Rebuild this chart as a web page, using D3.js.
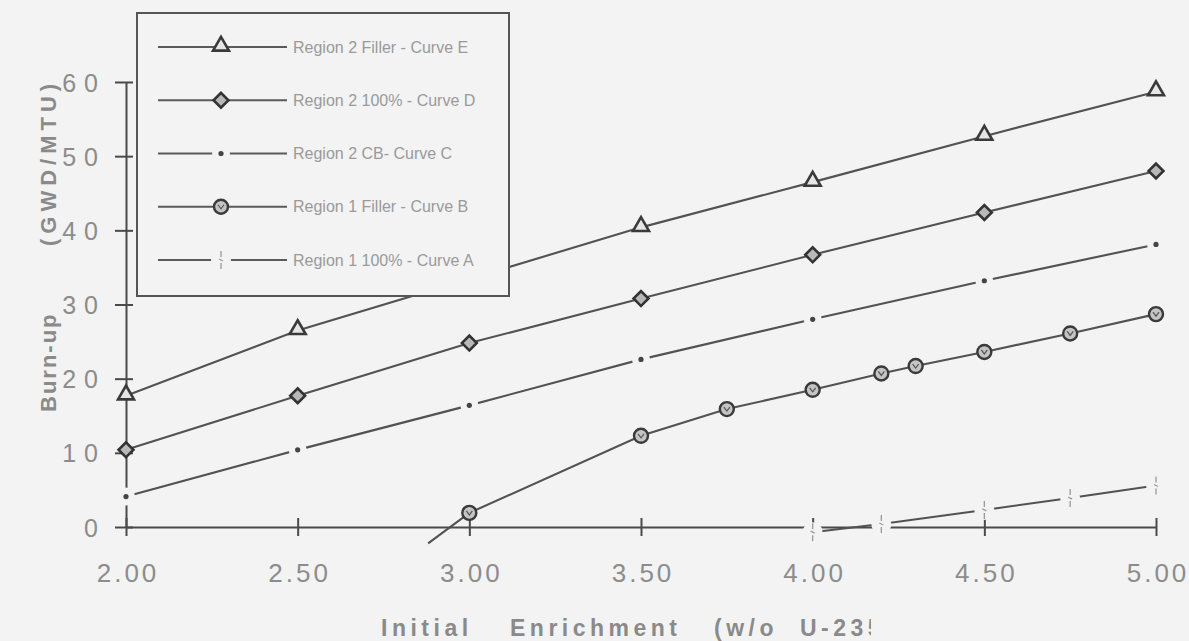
<!DOCTYPE html>
<html>
<head>
<meta charset="utf-8">
<script src="https://cdn.jsdelivr.net/npm/d3@7"></script>
<style>
  html, body { margin: 0; padding: 0; background: #f3f3f3; }
  svg { display: block; }
  text { font-family: "Liberation Sans", Arial, sans-serif; }
</style>
</head>
<body>
<svg id="chart" width="1189" height="641"></svg>
<script>
// ---- data ----
const xTickValues = [2.0, 2.5, 3.0, 3.5, 4.0, 4.5, 5.0];
const yTickValues = [0, 10, 20, 30, 40, 50, 60];

// Curve E: Region 2 Filler
const enrichE = [2.0, 2.5, 3.5, 4.0, 4.5, 5.0];
const burnE   = [17.7, 26.5, 40.4, 46.5, 52.7, 58.7];
// Curve D: Region 2 100%
const enrichD = [2.0, 2.5, 3.0, 3.5, 4.0, 4.5, 5.0];
const burnD   = [10.4, 17.7, 24.8, 30.8, 36.7, 42.4, 48.0];
// Curve C: Region 2 CB
const enrichC = [2.0, 2.5, 3.0, 3.5, 4.0, 4.5, 5.0];
const burnC   = [4.1, 10.4, 16.4, 22.6, 28.0, 33.2, 38.1];
// Curve B: Region 1 Filler (first point is the line start below the axis)
const enrichB = [2.88, 3.0, 3.5, 3.75, 4.0, 4.2, 4.3, 4.5, 4.75, 5.0];
const burnB   = [-2.2, 1.9, 12.3, 15.9, 18.5, 20.7, 21.7, 23.6, 26.1, 28.7];
// Curve A: Region 1 100%
const enrichA = [4.0, 4.2, 4.5, 4.75, 5.0];
const burnA   = [-0.7, 0.4, 2.3, 3.9, 5.6];

const legendLabels = [
  "Region 2 Filler - Curve E",
  "Region 2 100% - Curve D",
  "Region 2 CB- Curve C",
  "Region 1 Filler - Curve B",
  "Region 1 100% - Curve A"
];
const markerKinds = ["triangle", "diamond", "dot", "circle", "tick"];
const xTitleWords = ["Initial", "Enrichment", "(w/o", "U-235"];
const yTitleWords = ["Burn-up", "(GWD/MTU)"];

const series = [
  { x: enrichE, y: burnE }, { x: enrichD, y: burnD }, { x: enrichC, y: burnC },
  { x: enrichB, y: burnB }, { x: enrichA, y: burnA }
].map((s, i) => ({
  label: legendLabels[i], kind: markerKinds[i],
  pts: s.x.map((v, j) => ({ x: v, y: s.y[j] }))
}));

// ---- drawing ----
const BG = "#f3f3f3";
const svg = d3.select("#chart");
svg.append("rect").attr("width", 1189).attr("height", 641).attr("fill", BG);

const x = d3.scaleLinear().domain([2, 5]).range([126, 1156]);
const y = d3.scaleLinear().domain([0, 60]).range([527, 82]);

// axes
const gx = svg.append("g").attr("transform", `translate(0,${y(0)})`)
  .call(d3.axisBottom(x).tickValues(xTickValues).tickSize(0).tickFormat(d3.format(".2f")));
gx.select(".domain").attr("stroke", "#4a4a4a").attr("stroke-width", 2);
gx.selectAll(".tick line").attr("y1", -9).attr("y2", 9).attr("stroke", "#4a4a4a").attr("stroke-width", 2);
gx.selectAll(".tick text").attr("y", 55).attr("dy", 0).attr("dx", 1.5)
  .attr("font-size", 26).attr("letter-spacing", 3).attr("fill", "#8c8c8c")
  .attr("font-family", "Liberation Sans, Arial, sans-serif");

const gy = svg.append("g").attr("transform", `translate(${x(2)},0)`)
  .call(d3.axisLeft(y).tickValues(yTickValues).tickSize(0));
gy.select(".domain").attr("stroke", "#4a4a4a").attr("stroke-width", 2);
gy.selectAll(".tick line").attr("x1", -11).attr("x2", 7).attr("stroke", "#4a4a4a").attr("stroke-width", 2);
gy.selectAll(".tick text").attr("x", -20).attr("dy", "0.36em")
  .attr("font-size", 25).attr("letter-spacing", 8).attr("fill", "#8c8c8c")
  .attr("font-family", "Liberation Sans, Arial, sans-serif");

// lines
const line = d3.line().x(d => x(d.x)).y(d => y(d.y));
const gLines = svg.append("g");
series.forEach(s => {
  gLines.append("path").datum(s.pts).attr("d", line)
    .attr("fill", "none").attr("stroke", "#525252").attr("stroke-width", 2.1);
});

// marker drawing helper
function drawMarker(g, kind, cx, cy) {
  if (kind === "triangle") {
    g.append("path").attr("d", d3.symbol().type(d3.symbolTriangle).size(110)())
      .attr("transform", `translate(${cx},${cy - 1})`)
      .attr("fill", "#e6e6e6").attr("stroke", "#3a3a3a").attr("stroke-width", 2.6);
  } else if (kind === "diamond") {
    g.append("path").attr("d", d3.symbol().type(d3.symbolSquare).size(110)())
      .attr("transform", `translate(${cx},${cy}) rotate(45)`)
      .attr("fill", "#b8b8b8").attr("stroke", "#333").attr("stroke-width", 2.6);
  } else if (kind === "circle") {
    g.append("circle").attr("cx", cx).attr("cy", cy).attr("r", 7)
      .attr("fill", "#c4c4c4").attr("stroke", "#3a3a3a").attr("stroke-width", 2.4);
    g.append("path").attr("d", `M${cx - 3},${cy - 2} L${cx},${cy + 2} L${cx + 3},${cy - 2}`)
      .attr("fill", "none").attr("stroke", "#555").attr("stroke-width", 1.2);
  } else if (kind === "dot") {
    g.append("circle").attr("cx", cx).attr("cy", cy).attr("r", 9).attr("fill", BG);
    g.append("circle").attr("cx", cx).attr("cy", cy).attr("r", 2.6).attr("fill", "#444");
  } else if (kind === "tick") {
    g.append("circle").attr("cx", cx).attr("cy", cy).attr("r", 10).attr("fill", BG);
    g.append("path")
      .attr("d", `M${cx},${cy - 9} L${cx},${cy - 3} M${cx - 2},${cy - 1} L${cx + 2},${cy + 1} M${cx},${cy + 3} L${cx},${cy + 9}`)
      .attr("fill", "none").attr("stroke", "#999").attr("stroke-width", 1.3);
  }
}

const gMarks = svg.append("g");
series.forEach(s => {
  s.pts.filter(p => p.y > -1).forEach(p => drawMarker(gMarks, s.kind, x(p.x), y(p.y)));
});

// legend
const lg = svg.append("g");
lg.append("rect").attr("x", 137).attr("y", 13).attr("width", 372).attr("height", 283)
  .attr("fill", BG).attr("stroke", "#555").attr("stroke-width", 2);
const rowY = d3.scalePoint().domain(legendLabels).range([47, 260]);
series.forEach(s => {
  const ry = rowY(s.label);
  lg.append("line").attr("x1", 158).attr("x2", 287).attr("y1", ry).attr("y2", ry)
    .attr("stroke", "#5a5a5a").attr("stroke-width", 2);
  drawMarker(lg, s.kind, 221, ry);
  lg.append("text").attr("x", 293).attr("y", ry).attr("dy", "0.35em")
    .attr("font-size", 16).attr("fill", "#9a9a9a").text(s.label);
});

// y-axis title (rotated, two words placed separately)
const yt = svg.append("text")
  .attr("transform", "translate(56,0) rotate(-90)")
  .attr("font-size", 22).attr("font-weight", "bold").attr("fill", "#8a8a8a");
const yWordPos = d3.scaleOrdinal().domain(yTitleWords).range([-412, -246]);
const yWordSpacing = d3.scaleOrdinal().domain(yTitleWords).range([2, 5]);
yt.selectAll("tspan").data(yTitleWords).join("tspan")
  .attr("x", d => yWordPos(d)).attr("y", 0)
  .attr("letter-spacing", d => yWordSpacing(d)).text(d => d);

// x-axis title
svg.append("defs").append("clipPath").attr("id", "titleClip")
  .append("rect").attr("x", 0).attr("y", 0).attr("width", 871).attr("height", 641);
const xt = svg.append("text")
  .attr("y", 636).attr("clip-path", "url(#titleClip)")
  .attr("font-size", 23).attr("font-weight", "bold")
  .attr("letter-spacing", 4.5).attr("fill", "#8a8a8a");
const wordX = d3.scaleOrdinal().domain(xTitleWords).range([381, 510, 714, 800]);
xt.selectAll("tspan").data(xTitleWords).join("tspan")
  .attr("x", d => wordX(d)).text(d => d);
</script>
</body>
</html>
